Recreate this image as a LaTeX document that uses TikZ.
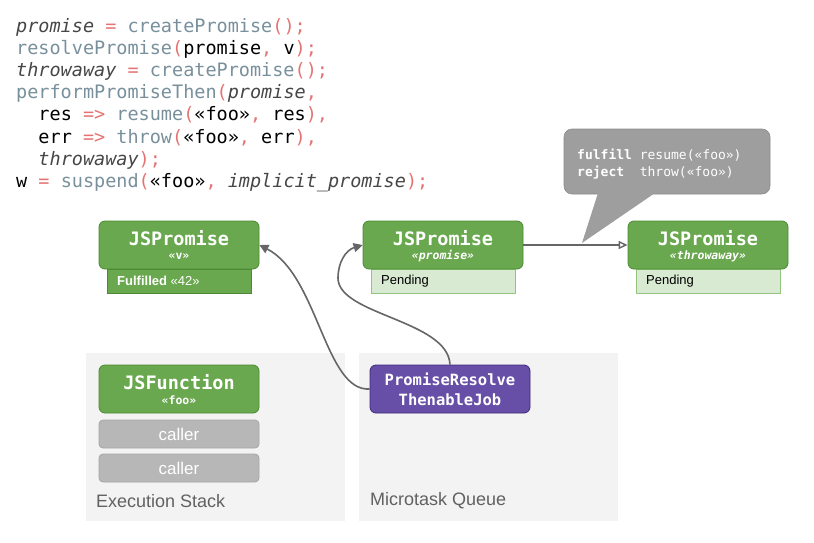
\documentclass[tikz,border=0pt]{standalone}
\usepackage{fontspec}
\setmainfont{Liberation Sans}
\newfontfamily\cm{DejaVu Sans Mono}
\usetikzlibrary{arrows.meta}
\definecolor{codefn}{RGB}{120,144,156}
\definecolor{codered}{RGB}{229,115,115}
\definecolor{codeit}{RGB}{70,70,70}
\definecolor{gfill}{HTML}{6AA84F}
\definecolor{gline}{HTML}{4A8A32}
\definecolor{lgfill}{HTML}{D9EAD3}
\definecolor{lgline}{HTML}{93C47D}
\definecolor{pfill}{HTML}{674EA7}
\definecolor{pline}{HTML}{3F2A7A}
\definecolor{panel}{HTML}{F3F3F3}
\definecolor{callgray}{HTML}{B7B7B7}
\definecolor{callout}{HTML}{9E9E9E}
\definecolor{arrowc}{HTML}{666666}
\newcommand\cf[1]{\textcolor{codefn}{#1}}
\newcommand\cp[1]{\textcolor{codered}{#1}}
\newcommand\cv[1]{\textcolor{codeit}{\itshape #1}}
\newcommand\ind{\phantom{xx}}
\tikzset{
  codeline/.style={anchor=base west, inner sep=0pt, font=\cm\fontsize{18.5}{22}\selectfont},
  gbox/.style={draw=gline, fill=gfill, rounded corners=6pt, line width=0.8pt, minimum width=160pt, minimum height=48pt, inner sep=0pt},
  pbox/.style={draw=pline, fill=pfill, rounded corners=6pt, line width=0.8pt, minimum width=160pt, minimum height=48pt, inner sep=0pt},
  sbox/.style={draw=lgline, fill=lgfill, line width=0.8pt, minimum width=144pt, minimum height=24pt, inner sep=0pt},
  fbox/.style={draw=gline, fill=gfill, line width=0.8pt, minimum width=144pt, minimum height=24pt, inner sep=0pt},
  cbox/.style={draw=black!35, fill=callgray, rounded corners=4pt, line width=0.8pt, minimum width=160pt, minimum height=28pt, inner sep=0pt, text=white, font=\fontsize{17}{20}\selectfont},
  ttl/.style={text=white, font=\cm\bfseries\fontsize{18.5}{20}\selectfont, inner sep=0pt},
  sub/.style={text=white, font=\cm\bfseries\fontsize{11.5}{13}\selectfont, inner sep=0pt},
  stxt/.style={anchor=west, inner sep=0pt, font=\fontsize{13}{15}\selectfont},
  cotxt/.style={anchor=base west, inner sep=0pt, text=white, font=\cm\fontsize{13}{17}\selectfont},
  plabel/.style={anchor=west, inner sep=0pt, text=black!62, font=\fontsize{18}{20}\selectfont},
  conn/.style={draw=arrowc, line width=1.6pt, -{Triangle[length=9pt,width=9pt]}},
}
\begin{document}
\begin{tikzpicture}[x=1pt,y=-1pt]
\useasboundingbox (0,0) rectangle (814,543);
% code
\node[codeline] (l1) at (16,33) {\cv{promise}\cp{\ =\ }\cf{createPromise}\cp{();}};
\node[codeline] (l2) at (16,55) {\cf{resolvePromise}\cp{(}promise\cp{,\ }v\cp{);}};
\node[codeline] (l3) at (16,77) {\cv{throwaway}\cp{\ =\ }\cf{createPromise}\cp{();}};
\node[codeline] (l4) at (16,99) {\cf{performPromiseThen}\cp{(}\cv{promise}\cp{,}};
\node[codeline] (l5) at (16,121) {\ind res\cp{\ =>\ }\cf{resume}\cp{(}«foo»\cp{,\ }res\cp{),}};
\node[codeline] (l6) at (16,143) {\ind err\cp{\ =>\ }\cf{throw}\cp{(}«foo»\cp{,\ }err\cp{),}};
\node[codeline] (l7) at (16,165) {\ind \cv{throwaway}\cp{);}};
\node[codeline] (l8) at (16,187) {w\cp{\ =\ }\cf{suspend}\cp{(}«foo»\cp{,\ }\cv{implicit\_promise}\cp{);}};
% panels
\fill[panel] (86,353) rectangle (345,521);
\fill[panel] (359,353) rectangle (618,521);
\node[plabel] (es) at (96,501) {Execution Stack};
\node[plabel] (mq) at (370,501) {Microtask Queue};
% callout
\draw[draw=black!45, fill=callout, line width=0.6pt, rounded corners=8pt] (564,129) rectangle (770,194);
\fill[callout] (598,193) -- (582,243) -- (655,193) -- cycle;
\node[cotxt] (co1) at (577,159) {{\bfseries fulfill} resume(«foo»)};
\node[cotxt] (co2) at (577,176) {{\bfseries reject}\phantom{x} throw(«foo»)};
% promise v
\node[fbox] (fv) at (179,281) {};
\node[stxt, text=white] at (117,281) {\textbf{Fulfilled} «42»};
\node[gbox] (pv) at (179,245) {};
\node[ttl] at (179,238) {JSPromise};
\node[sub] at (179,256) {«v»};
% promise promise
\node[sbox] (sp) at (443,281) {};
\node[stxt] at (381,281) {Pending};
\node[gbox] (pp) at (443,245) {};
\node[ttl] at (443,238) {JSPromise};
\node[sub] at (443,256) {\itshape «promise»};
% promise throwaway
\node[sbox] (st) at (708,281) {};
\node[stxt] at (646,281) {Pending};
\node[gbox] (pt) at (708,245) {};
\node[ttl] at (708,238) {JSPromise};
\node[sub] at (708,256) {\itshape «throwaway»};
% stack
\node[gbox] (jf) at (179,389) {};
\node[ttl] at (179,382) {JSFunction};
\node[sub] at (179,400) {«foo»};
\node[cbox] (c1) at (179,434) {caller};
\node[cbox] (c2) at (179,468) {caller};
% job
\node[pbox] (job) at (450,389) {};
\node[text=white, font=\cm\bfseries\fontsize{15.5}{20}\selectfont, align=center, inner sep=0pt] at (450,389) {PromiseResolve\\ThenableJob};
% connectors
\draw[draw=arrowc, line width=1.4pt, -{Triangle[open,length=9pt,width=8pt]}] (pp.east) -- (pt.west);
\draw[conn] (job.west) .. controls (325,392) and (318,275) .. (pv.east);
\draw[conn] (job.north) .. controls (448,320) and (338,315) .. (338,278) .. controls (338,262) and (346,250) .. (pp.west);
\end{tikzpicture}
\end{document}
